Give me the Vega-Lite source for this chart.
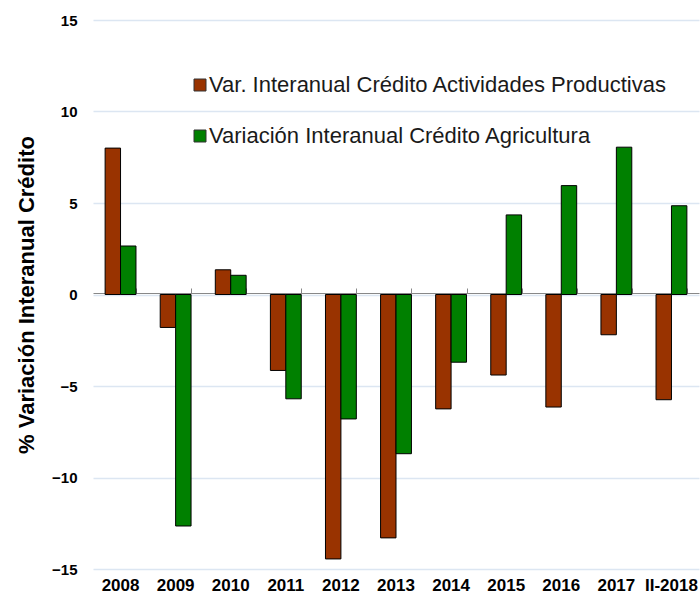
{
  "$schema": "https://vega.github.io/schema/vega-lite/v6.json",
  "width": 606,
  "height": 549,
  "autosize": {"type": "none"},
  "padding": {"left": 93, "top": 20, "right": 1, "bottom": 27},
  "background": "white",
  "config": {"view": {"stroke": null}, "font": "Liberation Sans"},
  "data": {
    "values": [
      {"cat": "2008", "serie": "Var. Interanual Crédito Actividades Productivas", "valor": 8.0},
      {"cat": "2008", "serie": "Variación Interanual Crédito Agricultura", "valor": 2.65},
      {"cat": "2009", "serie": "Var. Interanual Crédito Actividades Productivas", "valor": -1.8},
      {"cat": "2009", "serie": "Variación Interanual Crédito Agricultura", "valor": -12.65},
      {"cat": "2010", "serie": "Var. Interanual Crédito Actividades Productivas", "valor": 1.35},
      {"cat": "2010", "serie": "Variación Interanual Crédito Agricultura", "valor": 1.05},
      {"cat": "2011", "serie": "Var. Interanual Crédito Actividades Productivas", "valor": -4.15},
      {"cat": "2011", "serie": "Variación Interanual Crédito Agricultura", "valor": -5.7},
      {"cat": "2012", "serie": "Var. Interanual Crédito Actividades Productivas", "valor": -14.45},
      {"cat": "2012", "serie": "Variación Interanual Crédito Agricultura", "valor": -6.8},
      {"cat": "2013", "serie": "Var. Interanual Crédito Actividades Productivas", "valor": -13.3},
      {"cat": "2013", "serie": "Variación Interanual Crédito Agricultura", "valor": -8.7},
      {"cat": "2014", "serie": "Var. Interanual Crédito Actividades Productivas", "valor": -6.25},
      {"cat": "2014", "serie": "Variación Interanual Crédito Agricultura", "valor": -3.7},
      {"cat": "2015", "serie": "Var. Interanual Crédito Actividades Productivas", "valor": -4.4},
      {"cat": "2015", "serie": "Variación Interanual Crédito Agricultura", "valor": 4.35},
      {"cat": "2016", "serie": "Var. Interanual Crédito Actividades Productivas", "valor": -6.15},
      {"cat": "2016", "serie": "Variación Interanual Crédito Agricultura", "valor": 5.95},
      {"cat": "2017", "serie": "Var. Interanual Crédito Actividades Productivas", "valor": -2.2},
      {"cat": "2017", "serie": "Variación Interanual Crédito Agricultura", "valor": 8.05},
      {"cat": "II-2018", "serie": "Var. Interanual Crédito Actividades Productivas", "valor": -5.75},
      {"cat": "II-2018", "serie": "Variación Interanual Crédito Agricultura", "valor": 4.85}
    ]
  },
  "layer": [
    {
      "mark": {"type": "bar", "opacity": 0},
      "encoding": {
        "x": {
          "field": "cat", "type": "nominal", "sort": null,
          "scale": {"paddingInner": 0.44, "paddingOuter": 0.22},
          "axis": {"title": null, "domain": false, "ticks": false, "grid": false, "labelAngle": 0,
                   "labelFontSize": 17, "labelFontWeight": "bold", "labelColor": "#000000", "labelPadding": 8}
        },
        "xOffset": {"field": "serie", "type": "nominal"},
        "y": {
          "field": "valor", "type": "quantitative",
          "scale": {"domain": [-15, 15], "nice": false, "zero": false},
          "axis": {
            "title": "% Variación Interanual Crédito",
            "values": [-15, -10, -5, 0, 5, 10, 15],
            "grid": true, "gridColor": "#dce6f2", "gridWidth": 1.5,
            "domain": false, "ticks": false,
            "labelFontSize": 15, "labelFontWeight": "bold", "labelColor": "#000000", "labelPadding": 16,
            "titleFontSize": 22, "titleFontWeight": "bold", "titleColor": "#000000", "titlePadding": 13
          }
        }
      }
    },
    {
      "mark": {"type": "bar", "stroke": "#000000", "strokeWidth": 1},
      "encoding": {
        "x": {
          "field": "cat", "type": "nominal", "sort": null,
          "axis": {"title": null, "labels": false, "grid": false, "offset": -273,
                   "domain": true, "domainColor": "#888888", "domainWidth": 1.2,
                   "ticks": true, "tickColor": "#888888", "tickSize": 5, "tickBand": "extent"}
        },
        "xOffset": {"field": "serie", "type": "nominal"},
        "y": {"field": "valor", "type": "quantitative", "axis": null},
        "color": {
          "field": "serie", "type": "nominal",
          "scale": {
            "domain": ["Var. Interanual Crédito Actividades Productivas", "Variación Interanual Crédito Agricultura"],
            "range": ["#993300", "#008000"]
          },
          "legend": {
            "title": null, "orient": "none", "legendX": 96, "legendY": 54, "padding": 0,
            "symbolType": "square", "symbolSize": 144, "symbolStrokeColor": "#333333", "symbolStrokeWidth": 1,
            "labelFontSize": 22, "labelColor": "#1a1a1a", "labelOffset": -2, "rowPadding": 29, "labelLimit": 600
          }
        }
      }
    }
  ],
  "resolve": {"axis": {"x": "independent", "y": "independent"}}
}
